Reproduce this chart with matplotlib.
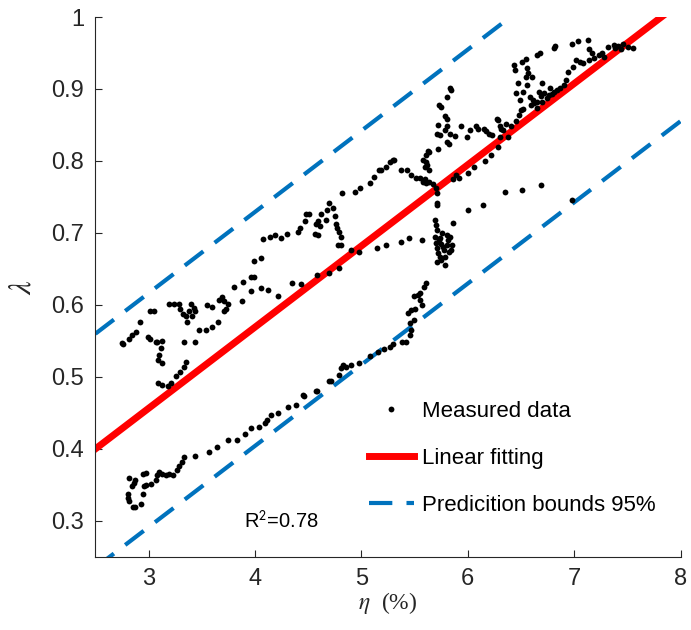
import matplotlib
matplotlib.use("Agg")
import matplotlib.pyplot as plt
import numpy as np
from matplotlib.ticker import FormatStrFormatter

plt.rcParams["font.family"] = ["Liberation Sans", "DejaVu Sans"]
plt.rcParams["mathtext.fontset"] = "stix"

# measured points, grouped by branch of the trajectory
eta_low = [2.81, 2.82, 2.85, 2.87, 2.93, 2.81, 2.95, 2.84, 2.86, 2.82, 2.87, 2.96, 2.98, 3.02,
           2.95, 2.98, 3.07, 3.08, 3.10, 3.13, 3.16, 3.19, 3.23, 3.27, 3.29, 3.31, 3.33, 3.44,
           3.57, 3.64, 3.75, 3.83, 3.91, 3.96, 4.04, 4.09, 4.11, 4.15, 4.22, 4.31, 4.39, 4.46,
           4.45, 4.58, 4.57, 4.70, 4.71, 4.79, 4.81, 4.83, 4.86, 4.90, 4.98, 5.08, 5.16, 5.21,
           5.27, 5.30, 5.38, 5.42, 5.46, 5.47, 5.46, 5.49, 5.44, 5.47, 5.50, 5.49, 5.53, 5.55,
           5.57, 5.59, 5.61, 5.55]
lam_low = [0.332, 0.327, 0.320, 0.319, 0.323, 0.338, 0.338, 0.348, 0.353, 0.359, 0.357, 0.348,
           0.350, 0.351, 0.365, 0.366, 0.357, 0.364, 0.368, 0.365, 0.364, 0.365, 0.364, 0.371,
           0.376, 0.382, 0.389, 0.390, 0.396, 0.403, 0.412, 0.413, 0.421, 0.429, 0.430, 0.436,
           0.440, 0.447, 0.450, 0.458, 0.461, 0.474, 0.475, 0.480, 0.481, 0.494, 0.494, 0.503,
           0.513, 0.517, 0.514, 0.517, 0.520, 0.529, 0.535, 0.539, 0.542, 0.546, 0.549, 0.549,
           0.558, 0.565, 0.575, 0.579, 0.589, 0.593, 0.594, 0.612, 0.614, 0.607, 0.600, 0.625,
           0.630, 0.616]

eta_loop = [2.75, 2.76, 2.82, 2.84, 2.88, 2.92, 3.01, 3.05, 2.99, 3.01, 3.07, 3.13, 3.12, 3.10,
            3.09, 3.13, 3.08, 3.09, 3.13, 3.18, 3.21, 3.26, 3.30, 3.33, 3.35, 3.33, 3.44, 3.19,
            3.24, 3.29, 3.30, 3.32, 3.35, 3.38, 3.40, 3.43, 3.44, 3.41, 3.36, 3.47, 3.54, 3.60,
            3.65, 3.55, 3.60, 3.66, 3.69, 3.71, 3.75, 3.73, 3.71, 3.80, 3.88, 3.89, 3.96, 3.99,
            3.96, 3.99, 4.06, 4.06, 4.12, 4.22]
lam_loop = [0.547, 0.546, 0.553, 0.558, 0.562, 0.577, 0.592, 0.592, 0.556, 0.553, 0.548, 0.550,
            0.540, 0.531, 0.523, 0.520, 0.549, 0.492, 0.489, 0.487, 0.491, 0.501, 0.507, 0.514,
            0.521, 0.549, 0.549, 0.601, 0.601, 0.602, 0.595, 0.588, 0.584, 0.591, 0.602, 0.596,
            0.591, 0.584, 0.577, 0.565, 0.565, 0.569, 0.577, 0.600, 0.597, 0.607, 0.611, 0.605,
            0.601, 0.594, 0.591, 0.625, 0.606, 0.632, 0.639, 0.639, 0.619, 0.661, 0.665, 0.623,
            0.621, 0.613]

eta_up = [4.08, 4.14, 4.19, 4.24, 4.30, 4.40, 4.42, 4.47, 4.48, 4.51, 4.57, 4.59, 4.61, 4.56,
          4.59, 4.62, 4.68, 4.70, 4.73, 4.67, 4.75, 4.76, 4.77, 4.79, 4.81, 4.78, 4.81, 4.82,
          4.94, 4.99, 5.08, 5.12, 5.18, 5.23, 5.27, 5.30, 5.31, 5.37, 5.43, 5.47, 5.51, 5.55,
          5.58, 5.61, 5.17]
lam_up = [0.691, 0.695, 0.697, 0.693, 0.698, 0.702, 0.707, 0.717, 0.727, 0.726, 0.713, 0.716,
          0.709, 0.698, 0.697, 0.727, 0.732, 0.741, 0.734, 0.718, 0.724, 0.713, 0.707, 0.702,
          0.695, 0.683, 0.683, 0.755, 0.757, 0.762, 0.770, 0.778, 0.787, 0.792, 0.798, 0.801,
          0.802, 0.788, 0.787, 0.781, 0.776, 0.777, 0.771, 0.769, 0.788]

eta_mid = [4.35, 4.43, 4.58, 4.70, 4.79, 4.90, 4.98, 5.15, 5.23, 5.37, 5.45, 5.57]
lam_mid = [0.631, 0.629, 0.641, 0.645, 0.651, 0.677, 0.674, 0.679, 0.683, 0.687, 0.693, 0.690]

eta_vert = [5.69, 5.70, 5.71, 5.69, 5.74, 5.80, 5.83, 5.70, 5.75, 5.80, 5.85, 5.71, 5.78, 5.82,
            5.72, 5.74, 5.79, 5.71, 5.79, 5.86, 5.71, 5.71, 5.76, 5.73, 5.77, 5.81, 5.75, 5.84,
            5.83, 5.84, 5.80, 5.73, 5.75, 5.79, 5.80, 5.72, 5.80, 5.79, 5.71, 5.74, 5.83, 5.88,
            5.94, 5.99, 5.80, 5.82, 5.72, 5.63, 5.58, 5.61, 5.60, 5.64, 5.60, 5.64, 5.67, 5.70,
            5.71, 5.61, 5.64, 5.62]
lam_vert = [0.718, 0.711, 0.704, 0.695, 0.693, 0.697, 0.695, 0.686, 0.685, 0.683, 0.683, 0.679,
            0.676, 0.674, 0.672, 0.667, 0.667, 0.660, 0.656, 0.714, 0.739, 0.741, 0.700, 0.690,
            0.680, 0.690, 0.663, 0.676, 0.902, 0.899, 0.889, 0.878, 0.875, 0.862, 0.858, 0.850,
            0.848, 0.843, 0.838, 0.836, 0.838, 0.835, 0.848, 0.833, 0.827, 0.824, 0.816, 0.814,
            0.801, 0.798, 0.791, 0.788, 0.775, 0.771, 0.768, 0.763, 0.756, 0.808, 0.812, 0.795]

eta_tail = [5.86, 5.89, 5.92, 6.00, 6.06, 6.16, 6.22, 6.28, 6.30, 6.31, 6.28, 6.36, 6.41, 6.45,
            6.48, 6.50, 6.38, 6.08, 6.10, 6.15, 6.17, 6.20, 6.23, 6.27, 6.30, 6.33, 6.02,
            6.00, 6.14, 6.35, 6.51, 6.69, 6.98]
lam_tail = [0.775, 0.781, 0.777, 0.784, 0.791, 0.800, 0.808, 0.820, 0.834, 0.845, 0.857, 0.852,
            0.848, 0.855, 0.864, 0.871, 0.834, 0.848, 0.844, 0.845, 0.841, 0.838, 0.836, 0.858,
            0.848, 0.843, 0.843, 0.732, 0.739, 0.757, 0.760, 0.767, 0.746]

eta_top = [6.49, 6.45, 6.52, 6.47, 6.56, 6.43, 6.44, 6.51, 6.55, 6.56, 6.57, 6.55, 6.60, 6.65,
           6.68, 6.82, 6.81, 6.98, 7.04, 7.13, 7.14, 6.58, 6.61, 6.59, 6.65, 6.70, 6.72, 6.67,
           6.77, 6.65, 6.70, 6.76, 6.81, 6.87, 6.92, 6.94, 6.99, 7.02, 7.05, 7.08, 7.14, 7.17,
           7.19, 7.23, 7.26, 7.32, 7.37, 7.41, 7.46, 7.51, 7.38, 6.52, 6.62, 6.69, 6.74, 6.79,
           6.84, 6.90, 7.28, 7.44, 7.55]
lam_top = [0.885, 0.894, 0.896, 0.908, 0.906, 0.933, 0.926, 0.938, 0.941, 0.929, 0.922, 0.917,
           0.917, 0.947, 0.950, 0.960, 0.957, 0.963, 0.966, 0.968, 0.956, 0.889, 0.885, 0.878,
           0.882, 0.908, 0.894, 0.896, 0.901, 0.873, 0.882, 0.892, 0.896, 0.901, 0.912, 0.924,
           0.931, 0.940, 0.938, 0.936, 0.940, 0.950, 0.943, 0.947, 0.950, 0.959, 0.961, 0.960,
           0.962, 0.959, 0.957, 0.872, 0.880, 0.890, 0.888, 0.893, 0.898, 0.905, 0.945, 0.955,
           0.957]

# linear fit and 95% prediction band offsets
fit_slope = 0.1128
fit_intercept = 0.118
band_upper = 0.160
band_lower = -0.165
r2 = 0.78

eta = np.concatenate([eta_low, eta_loop, eta_up, eta_mid, eta_vert, eta_tail, eta_top])
lam = np.concatenate([lam_low, lam_loop, lam_up, lam_mid, lam_vert, lam_tail, lam_top])

fig = plt.figure(figsize=(6.91, 6.30), dpi=100)
ax = fig.add_axes([0.138, 0.116, 0.847, 0.857])

xx = np.array([2.5, 8.0])
yfit = fit_slope * xx + fit_intercept

ax.plot(eta, lam, "o", color="black", markersize=4.2, markeredgewidth=0,
        label="Measured data", zorder=3)
ax.plot(xx, yfit, color="#ff0000", linewidth=5, label="Linear fitting", zorder=2)
ax.plot(xx, yfit + band_upper, color="#0072bd", linewidth=3, linestyle=(0, (5.6, 3.4)),
        label="Predicition bounds 95%", zorder=2)
ax.plot(xx, yfit + band_lower, color="#0072bd", linewidth=3, linestyle=(0, (5.6, 3.4)), zorder=2)

ax.set_xlim(2.5, 8)
ax.set_ylim(0.25, 1)
ax.set_xticks([3, 4, 5, 6, 7, 8])
ax.set_yticks([0.3, 0.4, 0.5, 0.6, 0.7, 0.8, 0.9, 1.0])
ax.yaxis.set_major_formatter(FormatStrFormatter("%g"))

for side in ["top", "right"]:
    ax.spines[side].set_visible(False)
for side in ["left", "bottom"]:
    ax.spines[side].set_color("#262626")
    ax.spines[side].set_linewidth(0.8)
ax.tick_params(direction="in", length=5, width=0.8, colors="#262626", labelsize=17, pad=8)

ax.set_ylabel(r"$\lambda$", fontsize=22, color="#262626", labelpad=10)
ax.set_xlabel(r"$\eta$  (%)", fontsize=17, family="Liberation Serif", color="#262626", labelpad=0)

ax.text(3.9, 0.30, r"R$^\mathsf{2}$=%.2f" % r2, fontsize=14.5, va="center", color="black")

ax.legend(loc="center left", bbox_to_anchor=(0.468, 0.183), frameon=False, fontsize=16,
          numpoints=1, handlelength=2.0, handletextpad=0.36, labelspacing=1.17,
          borderpad=0, borderaxespad=0, markerscale=1.0)

fig.savefig("out.png", dpi=100)
